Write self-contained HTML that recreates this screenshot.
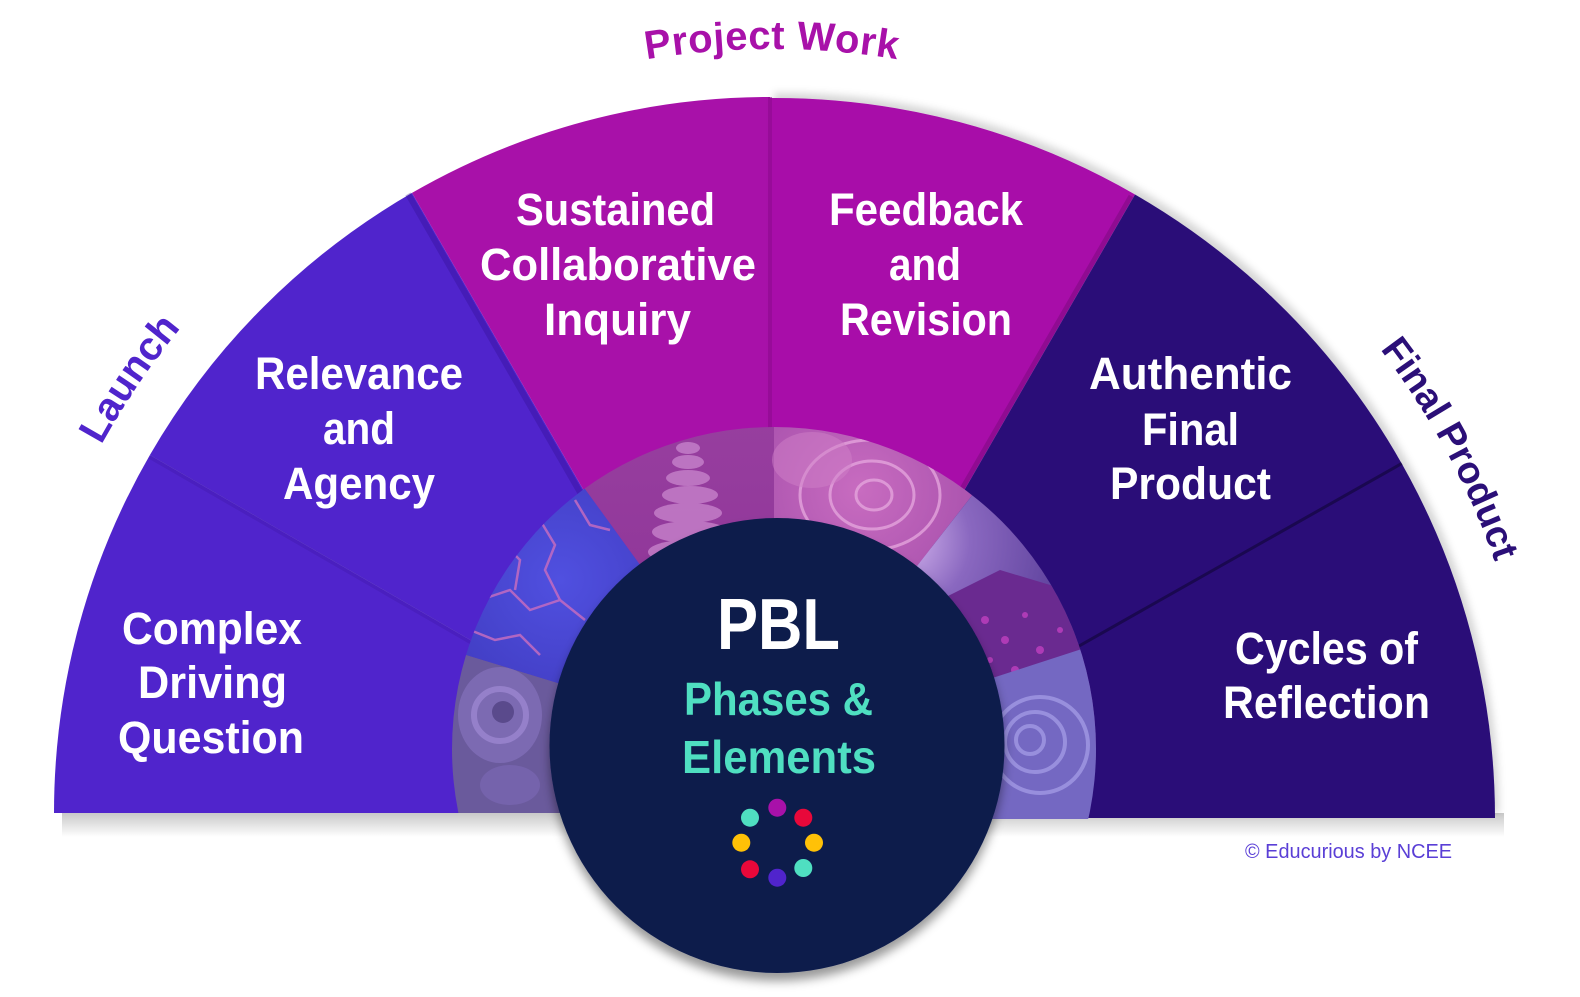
<!DOCTYPE html>
<html><head><meta charset="utf-8"><style>
html,body{margin:0;padding:0;background:#fff;}
svg{display:block;}
text{font-family:"Liberation Sans",Arial,sans-serif;}
</style></head><body>
<svg width="1580" height="997" viewBox="0 0 1580 997" xmlns="http://www.w3.org/2000/svg">
<defs>
  <filter id="cs" x="-20%" y="-20%" width="140%" height="150%">
    <feDropShadow dx="0" dy="8" stdDeviation="5" flood-color="#000" flood-opacity="0.4"/>
  </filter>
  <filter id="rs" x="-10%" y="-10%" width="125%" height="125%">
    <feDropShadow dx="4" dy="-5" stdDeviation="4" flood-color="#000" flood-opacity="0.16"/>
  </filter>
  <linearGradient id="bs" x1="0" y1="0" x2="0" y2="1">
    <stop offset="0" stop-color="#c9c9c9"/>
    <stop offset="1" stop-color="#ffffff"/>
  </linearGradient>
  <clipPath id="ring"><circle cx="774" cy="749" r="322"/></clipPath>
  <clipPath id="base"><path d="M0 0 H1580 V819 H774 V813 H0 Z"/></clipPath>
  <linearGradient id="gStones" x1="0" y1="0" x2="0" y2="1">
    <stop offset="0" stop-color="#a24aa8"/>
    <stop offset="1" stop-color="#8a3094"/>
  </linearGradient>
  <radialGradient id="gSun" cx="900" cy="540" r="200" gradientUnits="userSpaceOnUse">
    <stop offset="0" stop-color="#d8b8f0"/>
    <stop offset="0.35" stop-color="#8a68c0"/>
    <stop offset="1" stop-color="#4e3490"/>
  </radialGradient>
  <radialGradient id="gSucc" cx="860" cy="490" r="160" gradientUnits="userSpaceOnUse">
    <stop offset="0" stop-color="#c86cc0"/>
    <stop offset="1" stop-color="#a04aa8"/>
  </radialGradient>
  <radialGradient id="gMarble" cx="560" cy="580" r="180" gradientUnits="userSpaceOnUse">
    <stop offset="0" stop-color="#5050e0"/>
    <stop offset="1" stop-color="#3c36b8"/>
  </radialGradient>
</defs>

<!-- bottom shadow of fan -->
<rect x="62" y="813" width="1442" height="24" fill="url(#bs)"/>

<!-- left half sectors -->
<g>
  <path d="M770 813 L54 813 A716 716 0 0 1 149.9 455 Z" fill="#5024cc"/>
  <path d="M770 813 L149.9 455 A716 716 0 0 1 412 192.9 Z" fill="#5024cc"/>
  <line x1="149.9" y1="457" x2="770" y2="815" stroke="#3f18a8" stroke-width="4" opacity="0.35"/>
  <path d="M770 813 L412 192.9 A716 716 0 0 1 770 97 Z" fill="#a811a9"/>
  <line x1="408" y1="194" x2="766" y2="815" stroke="#2e0c8a" stroke-width="6" opacity="0.3"/>
</g>

<!-- right half sectors -->
<g filter="url(#rs)">
  <path d="M770 818 L770 98 A720 720 0 0 1 1135 194.5 L775 818 Z" fill="#a811a9"/>
  <path d="M775 818 L1135 194.5 A720 720 0 0 1 1401.7 463.5 Z" fill="#2b0f78"/>
  <path d="M775 818 L1401.7 463.5 A720 720 0 0 1 1495 818 Z" fill="#2b0f78"/>
</g>
<line x1="1131" y1="196" x2="772" y2="818" stroke="#5a0860" stroke-width="5" opacity="0.3"/>
<line x1="770" y1="97" x2="770" y2="818" stroke="#8e0a90" stroke-width="4" opacity="0.6"/>
<line x1="1401.7" y1="463.5" x2="775" y2="818" stroke="#1a0850" stroke-width="3"/>

<!-- photo ring -->
<g clip-path="url(#ring)">
 <g clip-path="url(#base)">
  <!-- fern -->
  <polygon points="774,749 210,954 200,573.6" fill="#6a5a9c"/>
  <ellipse cx="500" cy="715" rx="42" ry="48" fill="#8470bc" opacity="0.7"/>
  <circle cx="500" cy="715" r="26" fill="none" stroke="#a08ad4" stroke-width="6" opacity="0.7"/>
  <circle cx="503" cy="712" r="11" fill="#5a4a8c"/>
  <ellipse cx="510" cy="785" rx="30" ry="20" fill="#7a66b4" opacity="0.7"/>
  <!-- marble -->
  <polygon points="774,749 200,573.6 421.3,263.6" fill="url(#gMarble)"/>
  <g fill="none" stroke="#c46cc0" stroke-width="2.5" opacity="0.85">
    <path d="M480 600 L510 590 L530 610 L560 600 L585 620"/>
    <path d="M500 540 L520 560 L515 590 M540 520 L555 545 L545 570 L560 600"/>
    <path d="M470 630 L495 640 L520 635 L540 655"/>
    <path d="M575 500 L590 525 L610 530"/>
  </g>
  <!-- stones -->
  <polygon points="774,749 421.3,263.6 774,149" fill="url(#gStones)"/>
  <g fill="#c47ec8" opacity="0.85">
    <ellipse cx="688" cy="448" rx="12" ry="6"/>
    <ellipse cx="688" cy="462" rx="16" ry="7"/>
    <ellipse cx="688" cy="478" rx="22" ry="8"/>
    <ellipse cx="690" cy="495" rx="28" ry="9"/>
    <ellipse cx="688" cy="513" rx="34" ry="10"/>
    <ellipse cx="690" cy="532" rx="38" ry="11"/>
    <ellipse cx="688" cy="552" rx="40" ry="12"/>
  </g>
  <!-- succulent -->
  <polygon points="774,749 774,149 1143.4,276.2" fill="url(#gSucc)"/>
  <g fill="none" stroke="#e4a4dc" stroke-width="3" opacity="0.8">
    <ellipse cx="870" cy="495" rx="70" ry="55"/>
    <ellipse cx="872" cy="495" rx="42" ry="34"/>
    <ellipse cx="874" cy="495" rx="18" ry="15"/>
  </g>
  <ellipse cx="812" cy="460" rx="40" ry="28" fill="#d080c8" opacity="0.5"/>
  <!-- mountain / flowers -->
  <polygon points="774,749 1143.4,276.2 1344.6,563.6" fill="url(#gSun)"/>
  <polygon points="900,620 1000,570 1100,600 1200,640 1200,760 900,760" fill="#6a2a90"/>
  <g fill="#c040c0" opacity="0.8">
    <circle cx="985" cy="620" r="4"/><circle cx="1005" cy="640" r="4"/><circle cx="1025" cy="615" r="3"/>
    <circle cx="1040" cy="650" r="4"/><circle cx="990" cy="660" r="3"/><circle cx="1060" cy="630" r="3"/>
    <circle cx="1015" cy="670" r="4"/><circle cx="1070" cy="660" r="3"/><circle cx="965" cy="640" r="3"/>
  </g>
  <!-- nautilus -->
  <polygon points="774,749 1344.6,563.6 1337.8,954" fill="#7468c2"/>
  <g fill="none" stroke="#a49ce6" stroke-width="4" opacity="0.75">
    <circle cx="1040" cy="745" r="48"/>
    <circle cx="1035" cy="742" r="30"/>
    <circle cx="1030" cy="740" r="14"/>
  </g>
 </g>
</g>

<!-- center circle -->
<circle cx="777" cy="745.5" r="227.5" fill="#0a1a4b" filter="url(#cs)"/>

<!-- sector text -->
<g fill="#ffffff" font-weight="bold" font-size="45">
  <text x="122" y="644" textLength="180" lengthAdjust="spacingAndGlyphs">Complex</text>
  <text x="138" y="698" textLength="149" lengthAdjust="spacingAndGlyphs">Driving</text>
  <text x="118" y="753" textLength="186" lengthAdjust="spacingAndGlyphs">Question</text>

  <text x="255" y="389" textLength="208" lengthAdjust="spacingAndGlyphs">Relevance</text>
  <text x="323" y="444" textLength="72" lengthAdjust="spacingAndGlyphs">and</text>
  <text x="283" y="499" textLength="152" lengthAdjust="spacingAndGlyphs">Agency</text>

  <text x="516" y="225" textLength="199" lengthAdjust="spacingAndGlyphs">Sustained</text>
  <text x="480" y="280" textLength="276" lengthAdjust="spacingAndGlyphs">Collaborative</text>
  <text x="544" y="335" textLength="147" lengthAdjust="spacingAndGlyphs">Inquiry</text>

  <text x="829" y="225" textLength="194" lengthAdjust="spacingAndGlyphs">Feedback</text>
  <text x="889" y="280" textLength="72" lengthAdjust="spacingAndGlyphs">and</text>
  <text x="840" y="335" textLength="172" lengthAdjust="spacingAndGlyphs">Revision</text>

  <text x="1089" y="389" textLength="203" lengthAdjust="spacingAndGlyphs">Authentic</text>
  <text x="1142" y="445" textLength="97" lengthAdjust="spacingAndGlyphs">Final</text>
  <text x="1110" y="499" textLength="161" lengthAdjust="spacingAndGlyphs">Product</text>

  <text x="1235" y="664" textLength="183" lengthAdjust="spacingAndGlyphs">Cycles of</text>
  <text x="1223" y="718" textLength="207" lengthAdjust="spacingAndGlyphs">Reflection</text>
</g>

<!-- center text -->
<text x="717" y="649" font-size="72" font-weight="bold" fill="#ffffff" textLength="123" lengthAdjust="spacingAndGlyphs">PBL</text>
<text x="684" y="715" font-size="46" font-weight="bold" fill="#4fdfc1" textLength="189" lengthAdjust="spacingAndGlyphs">Phases &amp;</text>
<text x="682" y="773" font-size="46" font-weight="bold" fill="#4fdfc1" textLength="194" lengthAdjust="spacingAndGlyphs">Elements</text>

<!-- dots -->
<circle cx="777.3" cy="807.7" r="9" fill="#a811a9"/>
<circle cx="803.3" cy="817.7" r="9" fill="#e8083a"/>
<circle cx="814" cy="842.7" r="9" fill="#ffc107"/>
<circle cx="803.3" cy="868" r="9" fill="#4fdfc1"/>
<circle cx="777.3" cy="877.7" r="9" fill="#5024cc"/>
<circle cx="750" cy="869.3" r="9" fill="#e8083a"/>
<circle cx="741.3" cy="842.7" r="9" fill="#ffc107"/>
<circle cx="750" cy="817.7" r="9" fill="#4fdfc1"/>

<!-- curved phase labels -->
<path id="lab" d="M6 815 A766 766 0 0 1 1538 815" fill="none"/>
<text font-size="40" font-weight="bold" fill="#5024cc"><textPath href="#lab" startOffset="457" text-anchor="middle">Launch</textPath></text>
<text font-size="40" font-weight="bold" fill="#a811a9" letter-spacing="0.5"><textPath href="#lab" startOffset="1203" text-anchor="middle">Project Work</textPath></text>
<text font-size="38" font-weight="bold" fill="#2b0f78"><textPath href="#lab" startOffset="2027" text-anchor="middle">Final Product</textPath></text>

<!-- copyright -->
<text x="1245" y="858" font-size="20" fill="#5a3fd6" textLength="207" lengthAdjust="spacingAndGlyphs">© Educurious by NCEE</text>
</svg>
</body></html>
